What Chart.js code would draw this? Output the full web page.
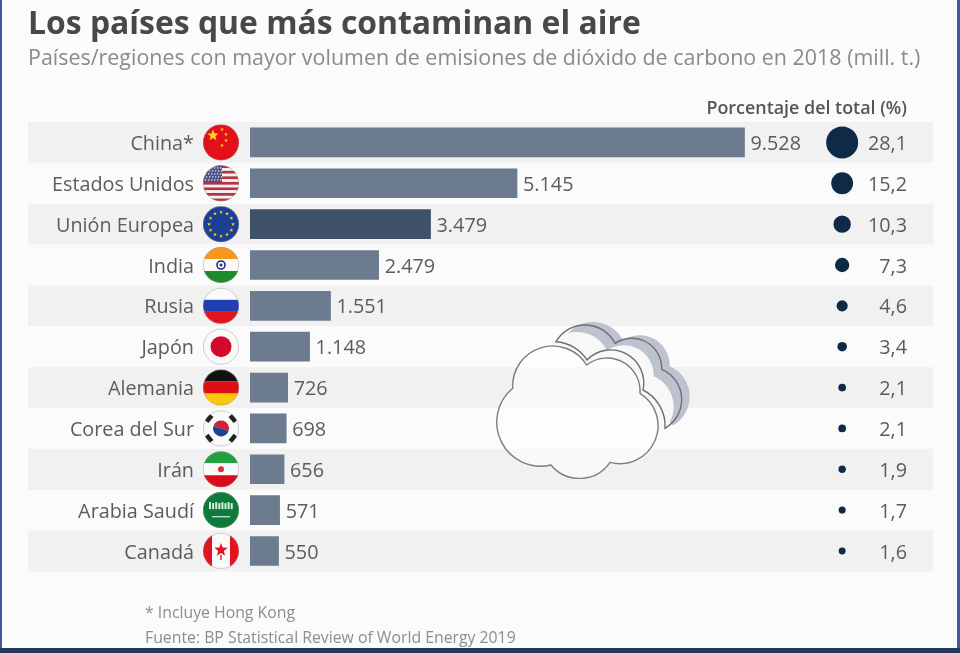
<!DOCTYPE html>
<html lang="es">
<head>
<meta charset="utf-8">
<title>Los países que más contaminan el aire</title>
<script src="https://cdn.jsdelivr.net/npm/chart.js@4/dist/chart.umd.min.js"></script>
<style>
  html, body { margin: 0; padding: 0; }
  body { width: 960px; height: 653px; position: relative; overflow: hidden; background: #fbfbfb; font-family: "Open Sans", sans-serif; }
  #growth { position: absolute; left: 0; top: 0; }
  .txt { position: absolute; white-space: nowrap; }
  #title { left: 28px; top: 0; font-size: 31.9px; font-weight: 700; color: #484848; }
  #sub { left: 28px; top: 42px; font-size: 21.45px; color: #8a8a8a; }
  #head { right: 53px; top: 95px; font-size: 17.9px; font-weight: 600; color: #555; }
  #note { left: 145px; top: 601px; font-size: 15.8px; color: #8d8d8d; }
  #src { left: 145px; top: 626px; font-size: 15.8px; color: #8d8d8d; }
  .edge { position: absolute; }
  #edgeL { left: 0; top: 0; width: 2px; height: 653px; background: #3f5a9e; }
  #edgeR { right: 0; top: 0; width: 3px; height: 653px; background: #3f5a9e; }
  #edgeB { left: 0; bottom: 0; width: 960px; height: 5px; background: #22385f; }
</style>
</head>
<body>
<canvas id="growth" width="960" height="653"></canvas>
<div class="txt" id="title">Los países que más contaminan el aire</div>
<div class="txt" id="sub">Países/regiones con mayor volumen de emisiones de dióxido de carbono en 2018 (mill. t.)</div>
<div class="txt" id="head">Porcentaje del total (%)</div>
<div class="txt" id="note">* Incluye Hong Kong</div>
<div class="txt" id="src">Fuente: BP Statistical Review of World Energy 2019</div>
<div class="edge" id="edgeL"></div>
<div class="edge" id="edgeR"></div>
<div class="edge" id="edgeB"></div>
<script>
const countries = ["China*", "Estados Unidos", "Unión Europea", "India", "Rusia", "Japón", "Alemania", "Corea del Sur", "Irán", "Arabia Saudí", "Canadá"];
const emissions = [9528, 5145, 3479, 2479, 1551, 1148, 726, 698, 656, 571, 550];
const shares = [28.1, 15.2, 10.3, 7.3, 4.6, 3.4, 2.1, 2.1, 1.9, 1.7, 1.6];
const flagCodes = ["cn", "us", "eu", "in", "ru", "jp", "de", "kr", "ir", "sa", "ca"];

const barColor = "#6c7b8e";
const euColor = "#3f5169";
const dotColor = "#0f2a47";
const textColor = "#5c5c5c";
const bandColor = "#f1f1f2";

// Format numbers the Spanish way
function formatThousands(val) {
  return val >= 1000 ? Math.floor(val / 1000) + "." + String(val % 1000).padStart(3, "0") : String(val);
}

function formatShare(val) {
  return val.toFixed(1).replace(".", ",");
}

function star(ctx, x, y, r, color) {
  ctx.fillStyle = color;
  ctx.beginPath();
  for (let i = 0; i < 10; i++) {
    const a = -Math.PI / 2 + i * Math.PI / 5;
    const d = i % 2 ? r * 0.42 : r;
    ctx.lineTo(x + Math.cos(a) * d, y + Math.sin(a) * d);
  }
  ctx.closePath();
  ctx.fill();
}

// Flags are drawn in a box of -18..18, clipped to a circle
const flags = {
  cn(c) {
    c.fillStyle = "#e3101a"; c.fillRect(-18, -18, 36, 36);
    star(c, -8, -7, 6, "#ffd21c");
    star(c, 1, -13, 2, "#ffd21c"); star(c, 5, -8, 2, "#ffd21c");
    star(c, 5, -2, 2, "#ffd21c"); star(c, 1, 3, 2, "#ffd21c");
  },
  us(c) {
    for (let i = 0; i < 13; i++) {
      c.fillStyle = i % 2 ? "#f4f4f4" : "#b8323f";
      c.fillRect(-18, -18 + i * 36 / 13, 36, 36 / 13 + 0.3);
    }
    c.fillStyle = "#4a5289"; c.fillRect(-18, -18, 19, 17);
    for (let r = 0; r < 5; r++) for (let k = 0; k < 6; k++) {
      c.fillStyle = "#e6e8f2"; c.fillRect(-16 + k * 3 + (r % 2), -16 + r * 3, 1.3, 1.3);
    }
  },
  eu(c) {
    c.fillStyle = "#1c3f94"; c.fillRect(-18, -18, 36, 36);
    for (let i = 0; i < 12; i++) {
      const a = i * Math.PI / 6;
      star(c, Math.cos(a) * 12, Math.sin(a) * 12, 2, "#f7d417");
    }
  },
  in(c) {
    c.fillStyle = "#f7981d"; c.fillRect(-18, -18, 36, 12);
    c.fillStyle = "#fafafa"; c.fillRect(-18, -6, 36, 12);
    c.fillStyle = "#1f8a2d"; c.fillRect(-18, 6, 36, 12);
    c.strokeStyle = "#1c2f80"; c.lineWidth = 1.6;
    c.beginPath(); c.arc(0, 0, 4, 0, Math.PI * 2); c.stroke();
    c.fillStyle = "#1c2f80"; c.beginPath(); c.arc(0, 0, 1.5, 0, Math.PI * 2); c.fill();
  },
  ru(c) {
    c.fillStyle = "#fafafa"; c.fillRect(-18, -18, 36, 12);
    c.fillStyle = "#1f3fb0"; c.fillRect(-18, -6, 36, 12);
    c.fillStyle = "#e2141f"; c.fillRect(-18, 6, 36, 12);
  },
  jp(c) {
    c.fillStyle = "#fafafa"; c.fillRect(-18, -18, 36, 36);
    c.fillStyle = "#d40a2c"; c.beginPath(); c.arc(0, 0, 10.5, 0, Math.PI * 2); c.fill();
  },
  de(c) {
    c.fillStyle = "#111"; c.fillRect(-18, -18, 36, 12);
    c.fillStyle = "#dd0f14"; c.fillRect(-18, -6, 36, 12);
    c.fillStyle = "#fbc90c"; c.fillRect(-18, 6, 36, 12);
  },
  kr(c) {
    c.fillStyle = "#fafafa"; c.fillRect(-18, -18, 36, 36);
    c.fillStyle = "#d2203a"; c.beginPath(); c.arc(0, 0, 8, Math.PI * 1.1, Math.PI * 0.1); c.fill();
    c.fillStyle = "#1c4390"; c.beginPath(); c.arc(0, 0, 8, Math.PI * 0.1, Math.PI * 1.1); c.fill();
    c.fillStyle = "#222";
    [[-12, -10], [12, -10], [-12, 10], [12, 10]].forEach(p => {
      c.save(); c.translate(p[0], p[1]); c.rotate(Math.atan2(p[1], p[0]) + Math.PI / 2);
      c.fillRect(-4, -2.5, 8, 5); c.restore();
    });
  },
  ir(c) {
    c.fillStyle = "#239f40"; c.fillRect(-18, -18, 36, 12);
    c.fillStyle = "#fafafa"; c.fillRect(-18, -6, 36, 12);
    c.fillStyle = "#da0c1a"; c.fillRect(-18, 6, 36, 12);
    c.fillStyle = "#d0303c"; c.beginPath(); c.arc(0, 0, 3, 0, Math.PI * 2); c.fill();
  },
  sa(c) {
    c.fillStyle = "#0c7a3a"; c.fillRect(-18, -18, 36, 36);
    c.fillStyle = "#d8ebde";
    for (let k = 0; k < 8; k++) c.fillRect(-12 + k * 3.1, -8 + (k % 2), 2, 7 - (k % 2));
    c.fillRect(-9, 6, 18, 1.2);
  },
  ca(c) {
    c.fillStyle = "#fafafa"; c.fillRect(-18, -18, 36, 36);
    c.fillStyle = "#e2141f"; c.fillRect(-18, -18, 9, 36); c.fillRect(9, -18, 9, 36);
    star(c, 0, -1, 7, "#e2141f"); c.fillRect(-0.7, 4, 1.4, 5);
  }
};

// Bands go down first, ticks have to stay on top of them
const rowBands = {
  id: "rowBands",
  beforeDraw(chart) {
    const { ctx, chartArea, scales } = chart;
    const step = scales.y.getPixelForValue(1) - scales.y.getPixelForValue(0);
    ctx.save();
    ctx.fillStyle = bandColor;
    countries.forEach((name, i) => {
      if (i % 2 === 0) ctx.fillRect(28, scales.y.getPixelForValue(i) - step / 2, chartArea.right - 28, step);
    });
    ctx.restore();

    // Open Sans sits high on a middle baseline, nudge the tick labels down
    scales.y.getLabelItems(chartArea).forEach(item => {
      item.options.translation[1] += 2;
    });
  }
};

const rowLabels = {
  id: "rowLabels",
  afterDatasetsDraw(chart) {
    const { ctx, chartArea, scales } = chart;
    ctx.save();
    ctx.font = "19.8px 'Open Sans'";
    ctx.fillStyle = textColor;
    ctx.textBaseline = "middle";
    countries.forEach((name, i) => {
      const y = scales.y.getPixelForValue(i);
      ctx.textAlign = "left";
      ctx.fillText(formatThousands(emissions[i]), scales.x.getPixelForValue(emissions[i]) + 6, y + 2);
      ctx.textAlign = "right";
      ctx.fillText(formatShare(shares[i]), chartArea.right - 26, y + 2);

      // Flag
      ctx.save();
      ctx.translate(chartArea.left - 29, y);
      ctx.beginPath();
      ctx.arc(0, 0, 18, 0, Math.PI * 2);
      ctx.save();
      ctx.clip();
      flags[flagCodes[i]](ctx);
      ctx.restore();
      ctx.beginPath();
      ctx.arc(0, 0, 17.6, 0, Math.PI * 2);
      ctx.strokeStyle = "rgba(150,150,150,0.55)";
      ctx.lineWidth = 0.8;
      ctx.stroke();
      ctx.restore();
    });
    ctx.restore();
  }
};

// Decorative cloud in the middle of the picture
const cloudFront = "M512.7 388.3 A40 40 0 0 1 586.7 365 A33 33 0 0 1 640 393.3 A38 38 0 0 1 610 462.3 A37 37 0 0 1 551 465 A44 44 0 0 1 512.7 388.3 Z";
const cloudBackSolid = "M556 341.7 A33.6 33.6 0 0 1 615 343.3 A30 30 0 0 1 661.7 369.3 A33 33 0 0 1 665 428.3 Z";
const cloudBack = "M556 341.7 A33.6 33.6 0 0 1 615 343.3 A30 30 0 0 1 661.7 369.3 A33 33 0 0 1 665 428.3 A40 40 0 0 0 643 390 A33 33 0 0 0 587 360 A40 40 0 0 0 556 341.7 Z";

const cloud = {
  id: "cloud",
  afterDraw(chart) {
    const { ctx } = chart;
    const front = new Path2D(cloudFront);
    const outside = new Path2D("M0 0 H960 V653 H0 Z");
    outside.addPath(front);
    ctx.save();
    ctx.save();
    ctx.clip(outside, "evenodd");
    ctx.save();
    ctx.translate(8, -3);
    ctx.fillStyle = "#bcc3ce";
    ctx.fill(new Path2D(cloudBackSolid));
    ctx.restore();
    ctx.save();
    ctx.translate(-8, 7);
    ctx.fillStyle = "#f8f8f9";
    ctx.fill(new Path2D(cloudBackSolid));
    ctx.restore();
    ctx.strokeStyle = "#6f6f73";
    ctx.lineWidth = 1.4;
    ctx.stroke(new Path2D(cloudBack));
    ctx.restore();
    ctx.fillStyle = "rgba(255,255,255,0.55)";
    ctx.fill(front);
    ctx.strokeStyle = "#7d7d80";
    ctx.lineWidth = 1.4;
    ctx.stroke(front);
    ctx.restore();
  }
};

new Chart(document.getElementById("growth"), {
  type: "bar",
  data: {
    labels: countries,
    datasets: [
      {
        label: "Emisiones (mill. t.)",
        data: emissions,
        backgroundColor: countries.map(n => n === "Unión Europea" ? euColor : barColor),
        barThickness: 29,
        xAxisID: "x",
        yAxisID: "y",
        order: 2
      },
      {
        type: "scatter",
        label: "Porcentaje del total (%)",
        data: shares.map((s, i) => ({ x: 0.867, y: countries[i] })),
        backgroundColor: dotColor,
        borderWidth: 0,
        pointRadius: c => 1.5 + 14.5 * Math.pow(shares[c.dataIndex] / 28.1, 0.7),
        xAxisID: "dotX",
        yAxisID: "y",
        order: 1
      }
    ]
  },
  options: {
    indexAxis: "y",
    responsive: false,
    animation: false,
    layout: { padding: { left: 28, right: 27, top: 122, bottom: 81.6 } },
    plugins: { legend: { display: false }, title: { display: false }, tooltip: { enabled: false } },
    scales: {
      x: { type: "linear", display: false, min: 0, max: 13160 },
      dotX: { type: "linear", display: false, min: 0, max: 1 },
      y: {
        type: "category",
        afterFit(scale) { scale.width = 222; },
        grid: { display: false },
        border: { display: false },
        ticks: {
          autoSkip: false,
          padding: 48,
          color: textColor,
          font: { family: "'Open Sans'", size: 19.8 }
        }
      }
    }
  },
  plugins: [rowBands, rowLabels, cloud]
});
</script>
</body>
</html>
